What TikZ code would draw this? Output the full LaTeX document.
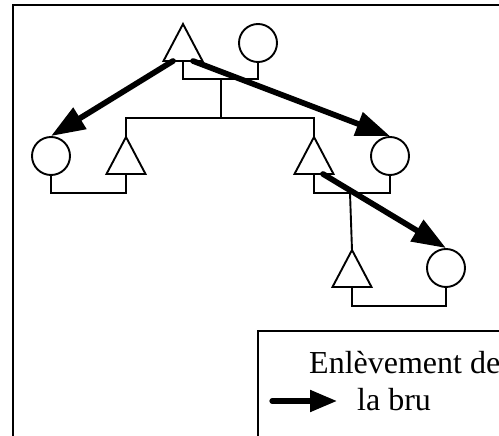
\documentclass[tikz,border=0pt]{standalone}
\usepackage{fontspec}
\setmainfont{Liberation Serif}
\usetikzlibrary{arrows.meta}
\tikzset{
  thin line/.style={line width=1.9pt, line join=miter},
  person/.style={circle, draw, thin line, minimum size=38pt, inner sep=0pt, fill=white},
  kidnap/.style={line width=5.7pt, line cap=round, -{Triangle[length=34pt,width=24pt]}},
  legendarrow/.style={line width=5.2pt, line cap=round, -{Triangle[length=27pt,width=21pt]}},
  lbl/.style={font=\fontsize{32pt}{36pt}\selectfont, anchor=base west, inner sep=0pt},
  tri/.pic={
    \coordinate (-apex) at (0,0);
    \coordinate (-base) at (0,37);
    \draw[thin line, fill=white] (0,0) -- (-19.5,37) -- (19.5,37) -- cycle;
  }
}
\begin{document}
\begin{tikzpicture}[x=1pt,y=-1pt]
\useasboundingbox (0,0) rectangle (499,436);
% frame
\draw[thin line] (499,5) -- (13,5) -- (13,436);
% people
\pic (TA) at (183,24) {tri};
\pic (TL) at (126,137) {tri};
\pic (TR) at (314,137) {tri};
\pic (TB) at (352,250) {tri};
\node[person] (CA) at (258,43) {};
\node[person] (CL) at (51,156) {};
\node[person] (CR) at (390,156) {};
\node[person] (CB) at (446,268) {};
% couple and descent lines
\coordinate (m1) at (221,80);
\coordinate (d1) at (221,118);
\draw[thin line] (TA-base) -- ++(0,18) -| (CA.south);
\draw[thin line] (m1) -- (d1);
\draw[thin line] (TL-apex) -- (126,118) -- (314,118) -- (TR-apex);
\draw[thin line] (CL.south) -- (51,193) -| (TL-base);
\draw[thin line] (TR-base) -- (314,193) -| (CR.south);
\coordinate (m2) at (350,193);
\draw[thin line] (m2) -- (TB-apex);
\draw[thin line] (TB-base) -- (352,306) -| (CB.south);
% kidnapping arrows
\coordinate (s1) at (173,61);
\coordinate (s2) at (193,61);
\coordinate (s3) at (323,174);
\draw[kidnap] (s1) -- (CL.north);
\draw[kidnap] (s2) -- (CR.north);
\draw[kidnap] (s3) -- (CB.north);
% legend
\draw[thin line] (499,331) -- (258,331) -- (258,436);
\coordinate (la) at (272,401);
\coordinate (lb) at (337,401);
\draw[legendarrow] (la) -- (lb);
\node[lbl] (t1) at (309,373) {Enlèvement de};
\node[lbl] (t2) at (357,410) {la bru};
\end{tikzpicture}
\end{document}
